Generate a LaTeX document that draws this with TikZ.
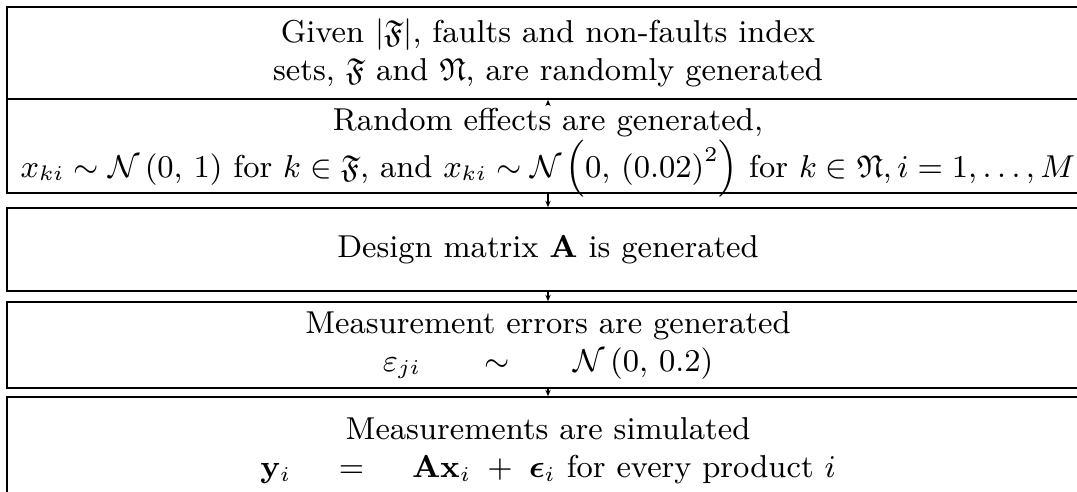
\documentclass[tikz,border=0pt]{standalone}
\usepackage{amsmath,amssymb,amsfonts}
\usetikzlibrary{arrows.meta,calc,positioning}

\tikzset{
  stepbox/.style={draw=black,line width=0.45pt,minimum width=10.81cm,inner sep=0pt,
    align=center,font=\fontsize{9}{10.8}\selectfont},
  flow/.style={-{Stealth[length=1.8pt,width=1.5pt]},line width=0.4pt}
}

\begin{document}
\begin{tikzpicture}[x=0.01cm,y=0.01cm]
\useasboundingbox (0,0) rectangle (1077,491);
\clip (0,0) rectangle (1077,491);
% the five steps, top to bottom
\node[stepbox,minimum height=0.92cm] (gen) at (548,438)
  {Given $|\mathfrak{F}|$, faults and non-faults index\\
   sets, $\mathfrak{F}$ and $\mathfrak{N}$, are randomly generated};
\node[stepbox,minimum height=0.94cm,text height=0.78cm,text depth=0.16cm] (rnd) at (548,345)
  {Random effects are generated,\\
   $x_{ki}\sim\mathcal{N}\left(0,\,1\right)$ for $k\in\mathfrak{F}$, and
   $x_{ki}\sim\mathcal{N}\mkern2mu\Bigl(0,\,\left(0.02\right)^2\Bigr)$ for $k\in\mathfrak{N}, i=1,\ldots,M$};
\node[stepbox,minimum height=0.83cm] (dsg) at (548,241.5)
  {Design matrix $\mathbf{A}$ is generated};
\node[stepbox,minimum height=0.86cm] (err) at (548,146)
  {Measurement errors are generated\\
   $\varepsilon_{ji}\hspace{15.5pt}\sim\hspace{15.5pt}\mathcal{N}\left(0,\,0.2\right)$};
\node[stepbox,minimum height=1.08cm] (msr) at (548,40)
  {Measurements are simulated\\
   $\mathbf{y}_i\hspace{11pt}=\hspace{11pt}\mathbf{A}\mathbf{x}_i\;+\;\boldsymbol{\epsilon}_i$ for every product $i$};
% connectors
\coordinate (up) at ($(rnd.north)+(0,-6)$);
\draw[flow] (up) -- (gen.south);
\draw[flow] (rnd) -- (dsg);
\draw[flow] (dsg) -- (err);
\draw[flow] (err) -- (msr);
\end{tikzpicture}
\end{document}
